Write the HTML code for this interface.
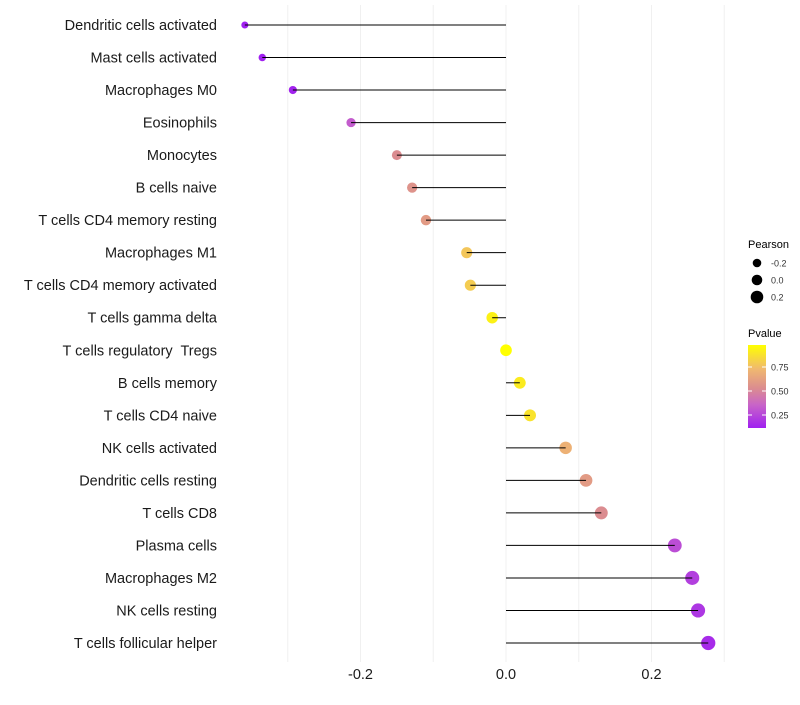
<!DOCTYPE html>
<html><head><meta charset="utf-8"><style>
body{margin:0;background:#fff;font-family:"Liberation Sans",sans-serif}
</style></head><body>
<svg id="c" width="800" height="700" xmlns="http://www.w3.org/2000/svg"></svg>
<script>
const categories=["Dendritic cells activated","Mast cells activated","Macrophages M0","Eosinophils","Monocytes","B cells naive","T cells CD4 memory resting","Macrophages M1","T cells CD4 memory activated","T cells gamma delta","T cells regulatory  Tregs","B cells memory","T cells CD4 naive","NK cells activated","Dendritic cells resting","T cells CD8","Plasma cells","Macrophages M2","NK cells resting","T cells follicular helper"];
const pearson=[-0.359,-0.335,-0.293,-0.213,-0.150,-0.129,-0.110,-0.054,-0.049,-0.019,0.0,0.019,0.033,0.082,0.110,0.131,0.232,0.256,0.264,0.278];
const pvalues=[0.05,0.08,0.15,0.35,0.55,0.58,0.62,0.80,0.82,0.95,1.0,0.93,0.90,0.72,0.62,0.55,0.30,0.25,0.22,0.18];
const xTicks=[-0.2,0.0,0.2];
const xTickLabels=["-0.2","0.0","0.2"];
const NS="http://www.w3.org/2000/svg";
const svg=document.getElementById('c');
const x=v=>506+v*727.5;
const y=i=>25+i*(618/19);
function mk(t,a,p){const e=document.createElementNS(NS,t);for(const k in a)e.setAttribute(k,a[k]);(p||svg).appendChild(e);return e;}
const stops=[[0.14,[160,32,240]],[0.38,[200,100,200]],[0.55,[219,140,144]],[0.75,[240,184,112]],[1.0,[255,255,0]]];
function col(p){if(p<=stops[0][0])return 'rgb('+stops[0][1]+')';for(let i=1;i<stops.length;i++){if(p<=stops[i][0]){const a=stops[i-1],b=stops[i],t=(p-a[0])/(b[0]-a[0]);return 'rgb('+a[1].map((c,j)=>Math.round(c+(b[1][j]-c)*t)).join(',')+')';}}return 'rgb(255,255,0)';}
const rad=v=>Math.sqrt(Math.max(4,34+60*v));
[-0.3,-0.2,-0.1,0,0.1,0.2,0.3].forEach(g=>{const l=mk('line',{x1:x(g),x2:x(g),y1:5,y2:662,stroke:'#f0f0f0','stroke-width':1});});
categories.forEach((c,i)=>{
const t=mk('text',{x:217,y:y(i)+5,'text-anchor':'end','font-size':14.5,fill:'#1a1a1a','xml:space':'preserve'});t.style.whiteSpace='pre';t.textContent=c;

const d=mk('circle',{cx:x(pearson[i]),cy:y(i),r:rad(pearson[i]),fill:col(pvalues[i])});

const l=mk('line',{x1:x(0),x2:x(pearson[i]),y1:y(i),y2:y(i),stroke:'#000','stroke-width':1});

});
xTicks.forEach((v,i)=>{const t=mk('text',{x:x(v),y:679,'text-anchor':'middle','font-size':14.5,fill:'#1a1a1a'});t.textContent=xTickLabels[i];});
const lt=mk('text',{x:748,y:248,'font-size':11,fill:'#000'});lt.textContent='Pearson';
[[-0.2,263],[0.0,280],[0.2,297]].forEach(([v,yy],i)=>{const c=mk('circle',{cx:757,cy:yy,r:[4.3,5.3,6.3][i],fill:'#000'});
const t=mk('text',{x:771,y:yy+3.5,'font-size':9,fill:'#333'});t.textContent=["-0.2","0.0","0.2"][i];});
const pt=mk('text',{x:748,y:337,'font-size':11,fill:'#000'});pt.textContent='Pvalue';
const defs=mk('defs',{});const lg=mk('linearGradient',{id:'g',x1:0,y1:1,x2:0,y2:0},defs);
stops.forEach(s=>mk('stop',{offset:(s[0]-0.14)/0.86,'stop-color':'rgb('+s[1]+')'},lg));
const bar=mk('rect',{x:748,y:345,width:18,height:83,fill:'url(#g)'});
[[0.75,367],[0.50,391],[0.25,415]].forEach(([v,yy])=>{mk('line',{x1:748,x2:752,y1:yy,y2:yy,stroke:'#fff'});mk('line',{x1:762,x2:766,y1:yy,y2:yy,stroke:'#fff'});
const t=mk('text',{x:771,y:yy+3.5,'font-size':9,fill:'#333'});t.textContent=v.toFixed(2);});
</script>
</body></html>
